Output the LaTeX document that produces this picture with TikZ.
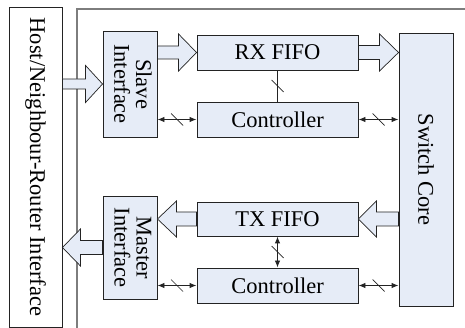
\documentclass[tikz,border=0pt]{standalone}
\usepackage{fontspec}
\setmainfont{Liberation Serif}
\usepackage{graphicx}
\usetikzlibrary{arrows.meta,calc}

\definecolor{boxfill}{RGB}{230,236,247}
\definecolor{edge}{RGB}{35,35,35}
\definecolor{framegray}{RGB}{125,125,125}

% horizontal block arrow: #1 tail point, #2 tip point, #3 half shaft, #4 half head, #5 signed head length
\newcommand\fatarrow[5]{%
  \draw[fat] let \p1=(#1), \p2=(#2) in
    (\x1,{\y1+#3pt}) -- ({\x2-(#5pt)},{\y1+#3pt}) -- ({\x2-(#5pt)},{\y1+#4pt})
    -- (\x2,\y1) -- ({\x2-(#5pt)},{\y1-#4pt}) -- ({\x2-(#5pt)},{\y1-#3pt})
    -- (\x1,{\y1-#3pt}) -- cycle;}

% bus-width tick across a connector
\newcommand\busmark[1]{%
  \draw[edge, line width=0.7pt] ($(#1)+(-6,-6)$) -- ($(#1)+(6,6)$);}

\begin{document}
\begin{tikzpicture}[x=1pt, y=-1pt,
  lbl/.style={font=\fontsize{22.5}{20}\selectfont},
  blk/.style={draw=edge, line width=0.9pt, fill=boxfill, inner sep=0pt, lbl},
  fat/.style={draw=edge, line width=0.7pt, fill=boxfill, line join=miter},
  bus/.style={draw=edge, line width=0.9pt},
  >={Latex[length=7pt,width=5.5pt]}]
\useasboundingbox (0,0) rectangle (465,328);

% enclosing router frame
\draw[framegray, line width=1.5pt] (77,328) -- (77,9) -- (465,9);

% host side
\node[draw=edge, line width=0.9pt, fill=white, inner sep=0pt, lbl,
      minimum width=53, minimum height=320] (host) at (35.5,167)
      {\rotatebox{-90}{Host/Neighbour-Router Interface}};

% interfaces
\node[blk, minimum width=54, minimum height=106] (slave) at (130,84)
      {\rotatebox{-90}{\begin{tabular}{@{}c@{}}Slave\\Interface\end{tabular}}};
\node[blk, minimum width=54, minimum height=103] (master) at (130,247.5)
      {\rotatebox{-90}{\begin{tabular}{@{}c@{}}Master\\Interface\end{tabular}}};

% FIFOs and controllers
\node[blk, minimum width=161, minimum height=35] (rx) at (277.5,52.5) {RX FIFO};
\node[blk, minimum width=161, minimum height=35] (ctrl1) at (277.5,119.5) {Controller};
\node[blk, minimum width=161, minimum height=34] (tx) at (277.5,219) {TX FIFO};
\node[blk, minimum width=161, minimum height=35] (ctrl2) at (277.5,285.5) {Controller};

% switch core
\node[blk, minimum width=54, minimum height=273] (switch) at (426,169.5)
      {\rotatebox{-90}{Switch Core}};

% data paths
\fatarrow{host.east |- slave.west}{slave.west}{5}{18.5}{17}
\fatarrow{slave.east |- rx.west}{rx.west}{6.5}{18.5}{18}
\fatarrow{rx.east}{switch.west |- rx.east}{7}{18.5}{19}
\fatarrow{switch.west |- tx.east}{tx.east}{7}{18}{-18}
\fatarrow{tx.west}{master.east |- tx.west}{7}{18}{-19}
\fatarrow{master.west}{host.east |- master.west}{7}{18.5}{-18}

% control buses
\draw[bus, <->] (slave.east |- ctrl1.west) -- coordinate (b1) (ctrl1.west);
\draw[bus, <->] (ctrl1.east) -- coordinate (b2) (switch.west |- ctrl1.east);
\draw[bus] (rx.south) -- coordinate (b3) (ctrl1.north);
\draw[bus, <->] (tx.south) -- coordinate (b4) (ctrl2.north);
\draw[bus, <->] (master.east |- ctrl2.west) -- coordinate (b5) (ctrl2.west);
\draw[bus, <->] (ctrl2.east) -- coordinate (b6) (switch.west |- ctrl2.east);
\busmark{b1}
\busmark{b2}
\busmark{b3}
\busmark{b4}
\busmark{b5}
\busmark{b6}
\end{tikzpicture}
\end{document}
